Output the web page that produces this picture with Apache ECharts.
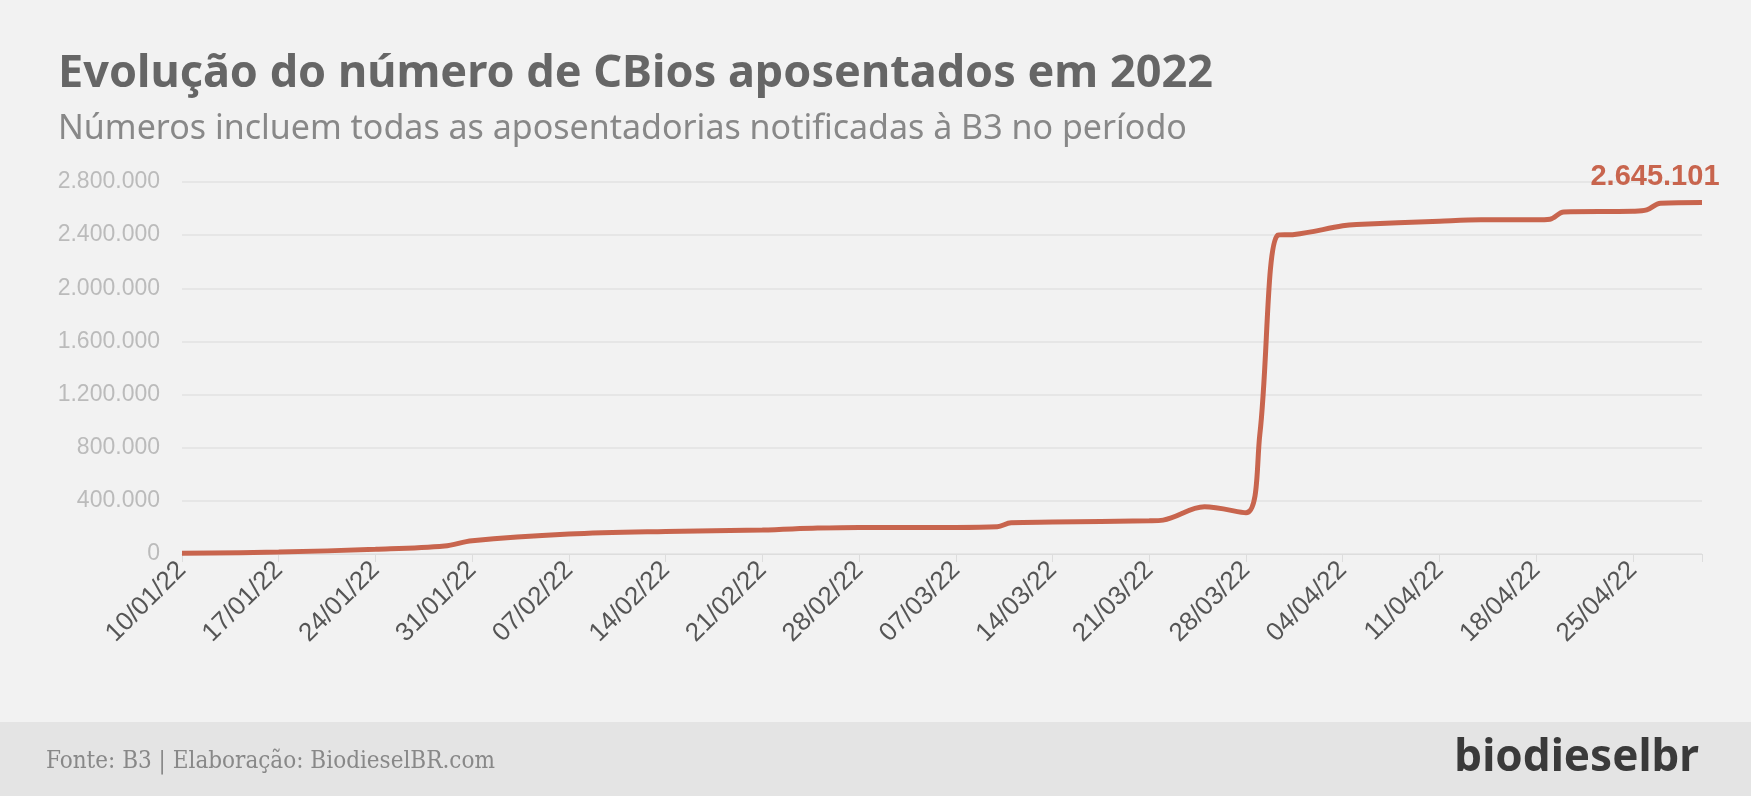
<!DOCTYPE html>
<html><head><meta charset="utf-8">
<script src="https://cdn.jsdelivr.net/npm/echarts@6/dist/echarts.min.js"></script>
<style>html,body{margin:0;padding:0;background:#f2f2f2}#c{width:1751px;height:796px}</style>
</head><body><div id="c"></div>
<script>
// day offset from 10/01/22
const days =   [0,   7,    14,   19,   21,    28,    35,    42,    46,    49,    56,    59,    60,    63,    70,    71,    74,    77,    78,    79.3,   80.5,   84,     85,     91,     94,     98,     99,     100,    105,    106,    107,    110];
const values = [5000,15000,35000,60000,100000,150000,170000,180000,195000,200000,200000,205000,235000,240000,250000,255000,355000,310000,900000,2400000,2405000,2470000,2480000,2505000,2515000,2515000,2520000,2575000,2580000,2590000,2640000,2645101];
const tickLabels = ['10/01/22','17/01/22','24/01/22','31/01/22','07/02/22','14/02/22','21/02/22','28/02/22','07/03/22','14/03/22','21/03/22','28/03/22','04/04/22','11/04/22','18/04/22','25/04/22'];
const lastLabel = '2.645.101';
const c = echarts.init(document.getElementById('c'));
const fmt = v => v===0?'0':v.toLocaleString('de-DE');
c.setOption({
  backgroundColor:'#f2f2f2',
  graphic:[
    {type:'rect',shape:{x:0,y:722,width:1751,height:74},style:{fill:'#e4e4e4'}},
    {type:'text',left:58,top:52,style:{text:'Evolução do número de CBios aposentados em 2022',font:'bold 45px "Noto Sans"',fill:'#666'}},
    {type:'text',left:58,top:112,style:{text:'Números incluem todas as aposentadorias notificadas à B3 no período',font:'34px "Noto Sans"',fill:'#888'}},
    {type:'text',left:46,top:750,style:{text:'Fonte: B3 | Elaboração: BiodieselBR.com',font:'24px "DejaVu Serif Condensed", "DejaVu Serif"',fill:'#888'}},
    {type:'text',right:52,top:736,style:{text:'biodieselbr',font:'bold 44px "Noto Sans"',fill:'#3a3a3a'}}
  ],
  grid:{left:182,right:49,top:182,bottom:242},
  xAxis:{type:'value',min:0,max:110,interval:7,
    axisLine:{show:true,lineStyle:{color:'#ddd'}},axisTick:{show:true,length:8,lineStyle:{color:'#ddd'}},
    splitLine:{show:false},
    axisLabel:{rotate:45,color:'#555',fontSize:26,fontFamily:'"Liberation Sans Narrow","Liberation Sans"',margin:12,
      formatter:v=>tickLabels[Math.round(v/7)]||''}},
  yAxis:{type:'value',min:0,max:2800000,interval:400000,
    axisLine:{show:false},axisTick:{show:false},
    splitLine:{lineStyle:{color:'#e2e2e2',width:1.5}},
    axisLabel:{color:'#bbb',fontSize:23,fontFamily:'"Liberation Sans Narrow","Liberation Sans"',margin:22,formatter:fmt}},
  series:[{type:'line',data:days.map((d,i)=>[d,values[i]]),smooth:0.35,showSymbol:false,
    lineStyle:{color:'#c8654e',width:5},
    markPoint:{symbol:'circle',symbolSize:0,data:[{coord:[days[days.length-1],values[values.length-1]]}],
      label:{show:true,formatter:lastLabel,position:'top',offset:[-47,-6],color:'#c8654e',fontSize:29,fontWeight:'bold',fontFamily:'"Liberation Sans Narrow","Liberation Sans"'}}}]
});
</script></body></html>
